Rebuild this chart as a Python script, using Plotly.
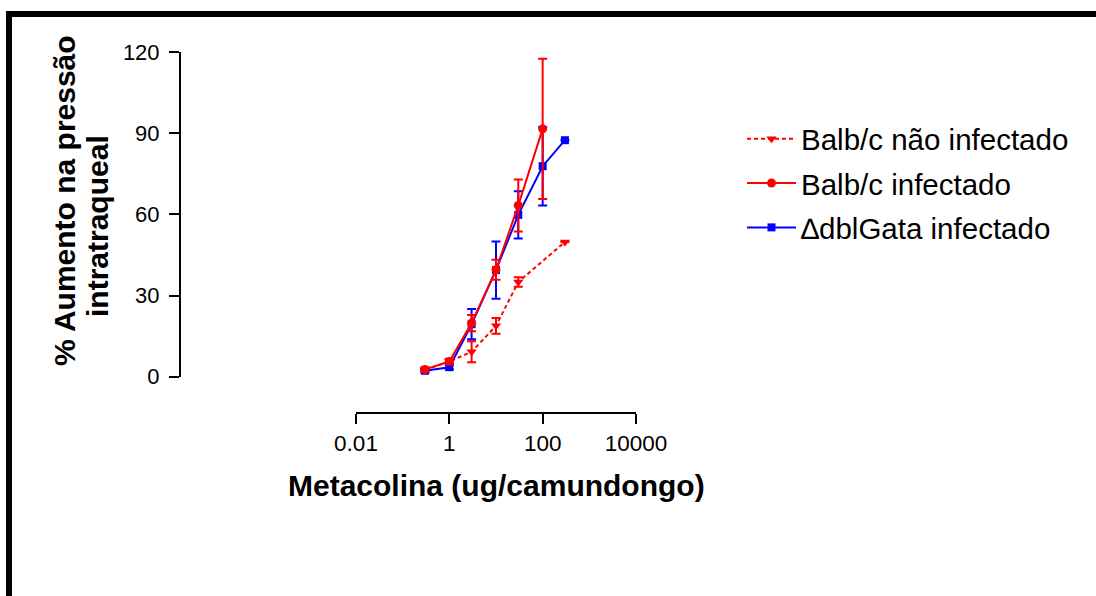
import plotly.graph_objects as go

W, H = 1096, 596

# ---- data ----
dose = [0.3, 1, 3, 10, 30, 100, 300]

nao_inf_y = [2.5, 5.6, 9.2, 18.8, 35.0, 49.8]
nao_inf_x = [0.3, 1, 3, 10, 30, 300]
nao_inf_err = [0.5, 0.8, 3.9, 2.9, 1.8, 0.0]

inf_y = [2.7, 5.6, 19.8, 39.5, 63.3, 91.6]
inf_x = [0.3, 1, 3, 10, 30, 100]
inf_err = [0.8, 1.0, 3.0, 3.7, 9.6, 25.9]

dbl_y = [2.2, 3.5, 19.4, 39.4, 59.8, 77.8, 87.4]
dbl_x = dose
dbl_err = [0.6, 0.8, 5.6, 10.6, 8.7, 14.5, 0.0]

x_ticks = [0.01, 1, 100, 10000]
x_ticktext = ["0.01", "1", "100", "10000"]
y_ticks = [0, 30, 60, 90, 120]

RED = "#FF0000"
BLUE = "#0000FF"
FONT = "Arial, Liberation Sans, sans-serif"

# ---- geometry (pixels) ----
ML, MR, MT, MB = 180, 460, 52, 183
PW = W - ML - MR
PH = H - MT - MB


def px(xp):
    return (xp - ML) / PW


def py(yp):
    return (H - MB - yp) / PH


fig = go.Figure()

fig.add_trace(go.Scatter(
    x=nao_inf_x, y=nao_inf_y, name="Balb/c não infectado",
    mode="lines+markers",
    line=dict(color=RED, width=2, dash="4px,3px"),
    marker=dict(symbol="triangle-down", size=9, color=RED),
    error_y=dict(type="data", array=nao_inf_err, color=RED, thickness=2, width=4.5),
    legendrank=1, legendgroup="a", cliponaxis=False,
))
fig.add_trace(go.Scatter(
    x=dbl_x, y=dbl_y, name="\u2206dblGata infectado",
    mode="lines+markers",
    line=dict(color=BLUE, width=2),
    marker=dict(symbol="square", size=8, color=BLUE),
    error_y=dict(type="data", array=dbl_err, color=BLUE, thickness=2, width=4.5),
    legendrank=3, legendgroup="c", cliponaxis=False,
))
fig.add_trace(go.Scatter(
    x=inf_x, y=inf_y, name="Balb/c infectado",
    mode="lines+markers",
    line=dict(color=RED, width=2),
    marker=dict(symbol="circle", size=9, color=RED),
    error_y=dict(type="data", array=inf_err, color=RED, thickness=2, width=4.5),
    legendrank=2, legendgroup="b", cliponaxis=False,
))

fig.update_layout(
    width=W, height=H,
    margin=dict(l=ML, r=MR, t=MT, b=MB, autoexpand=False),
    paper_bgcolor="white", plot_bgcolor="white",
    font=dict(family=FONT, color="black"),
    showlegend=True,
    legend=dict(
        x=px(742), y=py(113), xanchor="left", yanchor="top",
        font=dict(size=29.5, family=FONT, color="black"),
        bgcolor="rgba(0,0,0,0)", traceorder="grouped", tracegroupgap=3,
        itemwidth=49,
    ),
    xaxis=dict(
        type="log", range=[-2, 4], domain=[px(356), 1],
        anchor="free", position=0,
        tickvals=x_ticks, ticktext=x_ticktext,
        ticks="outside", ticklen=10, tickwidth=2, tickcolor="black",
        showline=True, linecolor="black", linewidth=2,
        showgrid=False, zeroline=False,
        tickfont=dict(size=22.5, family=FONT, color="black"),
    ),
    yaxis=dict(
        range=[0, 120], domain=[py(376.7), 1],
        anchor="free", position=0,
        tickvals=y_ticks,
        ticks="outside", ticklen=10, tickwidth=2, tickcolor="black",
        showline=True, linecolor="black", linewidth=2,
        showgrid=False, zeroline=False, ticklabelstandoff=5,
        tickfont=dict(size=22, family=FONT, color="black"),
    ),
)

title_font = dict(size=30, family=FONT, color="black", weight="bold")
fig.add_annotation(text="Metacolina (ug/camundongo)", xref="paper", yref="paper",
                   x=px(496.7), y=py(485), xanchor="center", yanchor="middle",
                   showarrow=False, font=title_font)
fig.add_annotation(text="% Aumento na pressão", xref="paper", yref="paper",
                   x=px(65), y=py(201), xanchor="center", yanchor="middle",
                   textangle=-90, showarrow=False, font=title_font)
fig.add_annotation(text="intratraqueal", xref="paper", yref="paper",
                   x=px(98), y=py(226), xanchor="center", yanchor="middle",
                   textangle=-90, showarrow=False, font=title_font)

# page frame (top and left bars)
fig.add_shape(type="rect", xref="paper", yref="paper",
              x0=px(6), x1=px(1100), y0=py(17), y1=py(11),
              fillcolor="black", line=dict(width=0), layer="above")
fig.add_shape(type="rect", xref="paper", yref="paper",
              x0=px(6), x1=px(12), y0=py(600), y1=py(11),
              fillcolor="black", line=dict(width=0), layer="above")

fig.write_html("out.html")
